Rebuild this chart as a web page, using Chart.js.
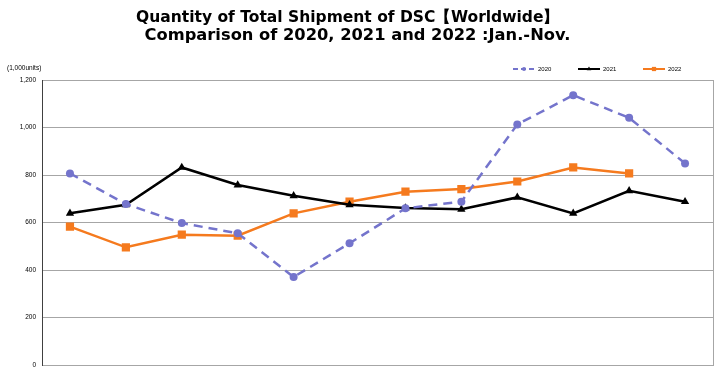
<!DOCTYPE html>
<html>
<head>
<meta charset="utf-8">
<script src="https://cdn.jsdelivr.net/npm/chart.js@4/dist/chart.umd.min.js"></script>
<style>
html,body{margin:0;padding:0;background:#fff;}
#wrap{width:720px;height:371px;}
</style>
</head>
<body>
<div id="wrap"><canvas id="c" width="720" height="371"></canvas></div>
<script>
const months = ["Jan","Feb","Mar","Apr","May","Jun","Jul","Aug","Sep","Oct","Nov","Dec"];
const s2020 = [807, 678, 598, 555, 371, 513, 660, 688, 1013, 1136, 1041, 849];
const s2021 = [639, 675, 832, 758, 713, 675, 661, 656, 706, 639, 734, 688];
const s2022 = [583, 496, 549, 545, 639, 688, 730, 741, 773, 832, 807];
const yTicks = [0, 200, 400, 600, 800, 1000, 1200];
const titleLines = ["Quantity of Total Shipment of DSC\u3010Worldwide\u3011", "Comparison of 2020, 2021 and 2022 :Jan.-Nov."];
const unitLabel = "(1,000units)";

const C2020 = "#7474CC", C2021 = "#000000", C2022 = "#F57A1E";

const decor = {
  id: "decor",
  afterDraw(chart) {
    const ctx = chart.ctx, a = chart.chartArea;
    ctx.save();
    // right border
    ctx.strokeStyle = "#a6a6a6"; ctx.lineWidth = 1;
    ctx.beginPath(); ctx.moveTo(a.right + 0.5, a.top); ctx.lineTo(a.right + 0.5, a.bottom); ctx.stroke();
    // title
    ctx.fillStyle = "#000";
    ctx.textAlign = "center"; ctx.textBaseline = "alphabetic";
    ctx.font = "bold 16px 'DejaVu Sans'";
    ctx.fillText(titleLines[0], 347.5, 22, 423);
    ctx.font = "bold 16.3px 'DejaVu Sans'";
    ctx.fillText(titleLines[1], 357.5, 40);
    // unit label
    ctx.font = "6.5px 'Liberation Sans'";
    ctx.textAlign = "left"; ctx.textBaseline = "middle";
    ctx.fillText(unitLabel, 7, 68);
    // legend
    const items = chart.data.datasets;
    const xs = [513, 578, 643];
    const rads = [2, 2.6, 3];
    items.forEach((ds, i) => {
      const x0 = xs[i], y = 69;
      ctx.strokeStyle = ds.borderColor; ctx.lineWidth = 2;
      ctx.setLineDash(ds.borderDash ? [5, 3] : []);
      ctx.beginPath(); ctx.moveTo(x0, y); ctx.lineTo(x0 + 22, y); ctx.stroke();
      ctx.setLineDash([]);
      ctx.fillStyle = ds.backgroundColor;
      Chart.helpers.drawPoint(ctx, {pointStyle: ds.pointStyle, rotation: 0, borderWidth: 0, radius: rads[i]}, x0 + 11, y);
      ctx.fillStyle = "#000";
      ctx.font = "6px 'Liberation Sans'";
      ctx.textAlign = "left"; ctx.textBaseline = "middle";
      ctx.fillText(ds.label, x0 + 25, y);
    });
    ctx.restore();
  }
};

new Chart(document.getElementById("c"), {
  type: "line",
  data: {
    labels: months,
    datasets: [
      {label: "2020", data: s2020, borderColor: C2020, backgroundColor: C2020, borderWidth: 2.5, borderDash: [9, 6],
       pointStyle: "circle", pointRadius: 4, pointHoverRadius: 4, pointBorderWidth: 0, tension: 0},
      {label: "2021", data: s2021, borderColor: C2021, backgroundColor: C2021, borderWidth: 2.5,
       pointStyle: "triangle", pointRadius: 4.8, pointHoverRadius: 4.8, pointBorderWidth: 0, tension: 0},
      {label: "2022", data: s2022, borderColor: C2022, backgroundColor: C2022, borderWidth: 2.5,
       pointStyle: "rect", pointRadius: 5.8, pointHoverRadius: 5.8, pointBorderWidth: 0, tension: 0}
    ]
  },
  options: {
    responsive: false,
    animation: false,
    layout: {padding: {top: 80, right: 7, left: 0, bottom: 0}},
    plugins: {legend: {display: false}, title: {display: false}, tooltip: {enabled: false}},
    scales: {
      x: {
        offset: true,
        ticks: {display: false},
        grid: {display: false, drawTicks: false},
        border: {display: true, color: "#a6a6a6", width: 1},
        afterFit(s) { s.height = 3; s.paddingLeft = 0; s.paddingRight = 0; }
      },
      y: {
        min: 0, max: 1200,
        afterBuildTicks(s) { s.ticks = yTicks.map(v => ({value: v})); },
        ticks: {font: {family: "'Liberation Sans'", size: 6.5}, color: "#000", padding: 6,
                callback: v => v.toLocaleString("en-US")},
        grid: {color: "#a6a6a6", lineWidth: 1, drawTicks: false},
        border: {display: true, color: "#404040", width: 1},
        afterFit(s) { s.width = 42; s.paddingTop = 0; s.paddingBottom = 0; }
      }
    }
  },
  plugins: [decor]
});
</script>
</body>
</html>
